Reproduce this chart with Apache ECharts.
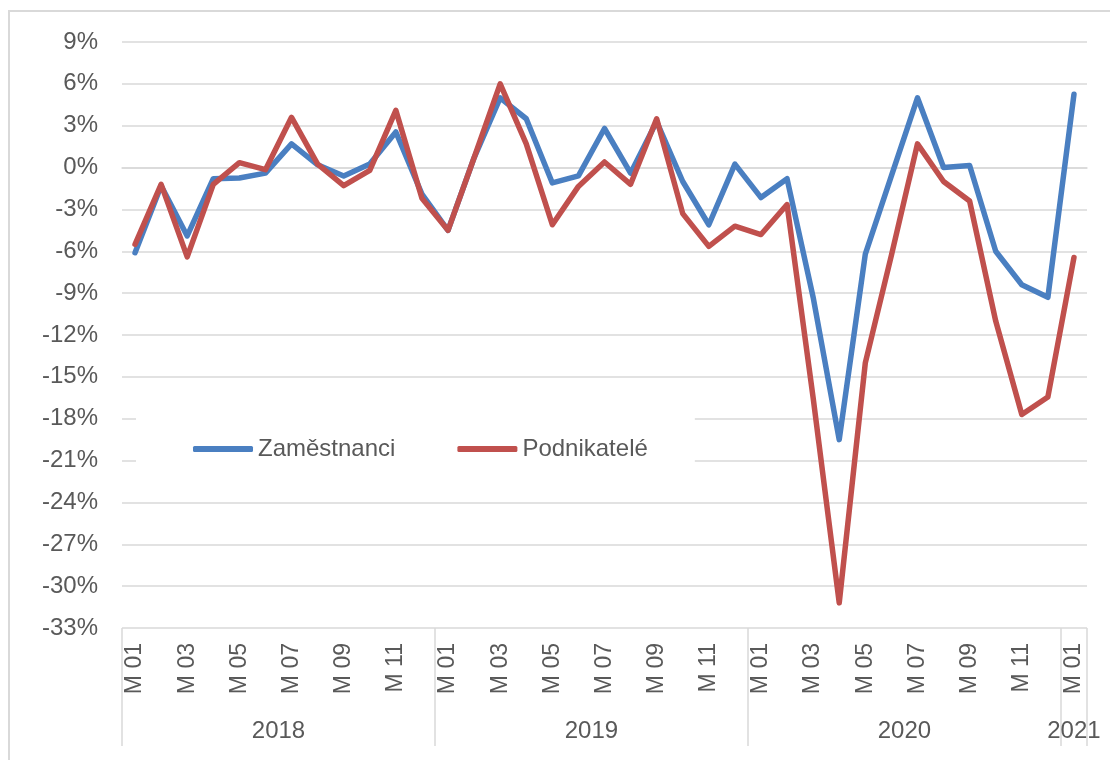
<!DOCTYPE html>
<html>
<head>
<meta charset="utf-8">
<script src="https://cdn.jsdelivr.net/npm/echarts@6/dist/echarts.min.js"></script>
<style>
  html, body { margin: 0; padding: 0; background: #fff; }
  #frame { position: absolute; left: 8px; top: 10px; width: 1200px; height: 800px; border: 2px solid #d9d9d9; box-sizing: border-box; }
  #chart { position: absolute; left: 0; top: 0; width: 1110px; height: 760px; }
</style>
</head>
<body>
<div id="frame"></div>
<div id="chart"></div>
<script>
(function() {
  // months 2018 M01 .. 2021 M01
  var months = [
    'M 01', 'M 02', 'M 03', 'M 04', 'M 05', 'M 06', 'M 07', 'M 08', 'M 09', 'M 10', 'M 11', 'M 12',
    'M 01', 'M 02', 'M 03', 'M 04', 'M 05', 'M 06', 'M 07', 'M 08', 'M 09', 'M 10', 'M 11', 'M 12',
    'M 01', 'M 02', 'M 03', 'M 04', 'M 05', 'M 06', 'M 07', 'M 08', 'M 09', 'M 10', 'M 11', 'M 12',
    'M 01'
  ];
  var years = ['2018', '2019', '2020', '2021'];
  var yearStart = [0, 12, 24, 36];
  var yearLen = [12, 12, 12, 1];

  var zamestnanci = [
    -6.1, -1.3, -4.9, -0.8, -0.75, -0.4, 1.7, 0.2, -0.6, 0.25, 2.55, -1.9,
    -4.5, 0.7, 5.0, 3.5, -1.1, -0.6, 2.8, -0.4, 3.3, -1.0, -4.1, 0.25,
    -2.15, -0.8, -9.3, -19.5, -6.2, -0.6, 5.0, 0.0, 0.15, -6.0, -8.4, -9.3,
    5.25
  ];
  var podnikatele = [
    -5.5, -1.2, -6.4, -1.2, 0.35, -0.15, 3.6, 0.25, -1.3, -0.2, 4.1, -2.2,
    -4.5, 0.7, 6.0, 1.7, -4.1, -1.35, 0.4, -1.2, 3.5, -3.3, -5.65, -4.2,
    -4.8, -2.65, -16.5, -31.2, -14.0, -6.3, 1.7, -1.0, -2.4, -11.0, -17.7, -16.45,
    -6.45
  ];

  var ink = '#595959';
  var rule = '#d9d9d9';
  var blue = '#4a7fc1';
  var red = '#c0504d';

  // year label sits in the middle of its block, separators at block edges
  var yearMid = yearStart.map(function(s, i) { return s + yearLen[i] / 2; });
  var yearEdges = yearStart.concat([months.length]);

  var chart = echarts.init(document.getElementById('chart'), null, { renderer: 'canvas' });
  chart.setOption({
    animation: false,
    textStyle: { fontFamily: 'Liberation Sans, Arial, sans-serif' },
    grid: { left: 122, right: 23, top: 42, bottom: 132 },
    legend: {
      left: 136,
      top: 390,
      padding: [44, 47, 21, 57],
      backgroundColor: '#fff',
      icon: 'roundRect',
      itemWidth: 60,
      itemHeight: 6,
      itemGap: 62,
      textStyle: { color: ink, fontSize: 24, lineHeight: 30 },
      data: ['Zaměstnanci', 'Podnikatelé']
    },
    xAxis: [{
      type: 'category',
      data: months,
      boundaryGap: true,
      axisLine: { lineStyle: { color: rule, width: 1.5 } },
      axisTick: { show: false },
      axisLabel: { interval: 1, rotate: 90, color: ink, fontSize: 23, margin: 15 }
    }, {
      type: 'value',
      position: 'bottom',
      min: 0,
      max: months.length,
      axisLine: { show: false },
      splitLine: { show: false },
      axisTick: {
        show: true,
        customValues: yearEdges,
        length: 118,
        lineStyle: { color: rule, width: 1.5 }
      },
      axisLabel: {
        customValues: yearMid,
        margin: 91,
        color: ink,
        fontSize: 24,
        formatter: function(v) {
          var i = yearMid.indexOf(v);
          return i >= 0 ? years[i] : '';
        }
      }
    }],
    yAxis: {
      type: 'value',
      min: -33,
      max: 9,
      interval: 3,
      axisLine: { show: false },
      axisTick: { show: false },
      axisLabel: { color: ink, fontSize: 24, margin: 24, formatter: '{value}%' },
      splitLine: { lineStyle: { color: rule, width: 1.5 } }
    },
    series: [{
      name: 'Zaměstnanci',
      type: 'line',
      data: zamestnanci,
      symbol: 'none',
      lineStyle: { color: blue, width: 5.5, join: 'round', cap: 'round' },
      itemStyle: { color: blue }
    }, {
      name: 'Podnikatelé',
      type: 'line',
      data: podnikatele,
      symbol: 'none',
      lineStyle: { color: red, width: 5.5, join: 'round', cap: 'round' },
      itemStyle: { color: red }
    }]
  });
  window.addEventListener('resize', function() { chart.resize(); });
})();
</script>
</body>
</html>
